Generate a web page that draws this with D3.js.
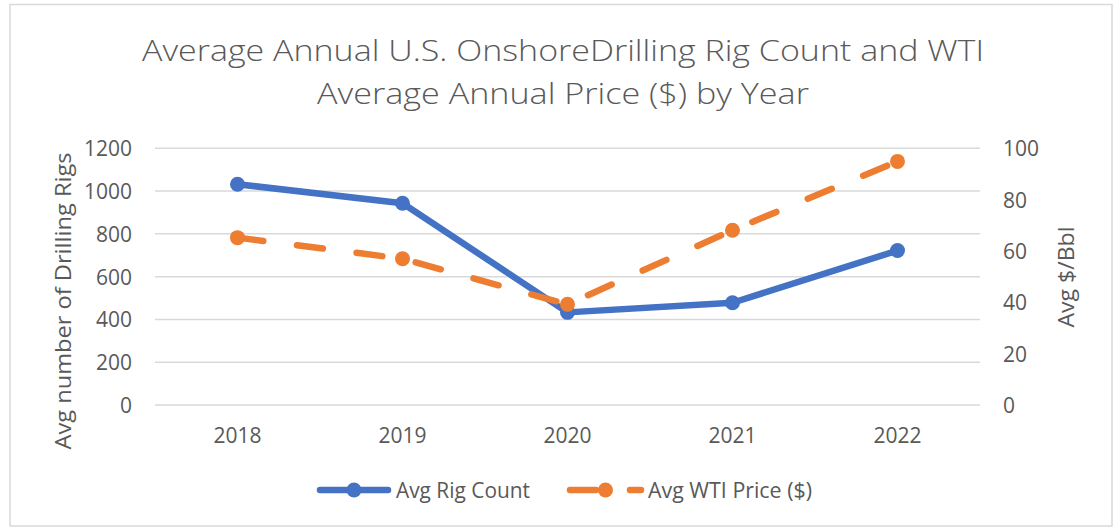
<!DOCTYPE html>
<html>
<head>
<meta charset="utf-8">
<script src="https://cdn.jsdelivr.net/npm/d3@7/dist/d3.min.js"></script>
<style>
    body { margin: 0; background: #fff; }
    svg text { font-family: "Open Sans", "Noto Sans", sans-serif; fill: #595959; }
</style>
</head>
<body>
<div id="chart"></div>
<script>
var years = ["2018", "2019", "2020", "2021", "2022"];
var rigCount = [1032, 943, 433, 478, 722];
var wtiPrice = [65.2, 57.0, 39.2, 68.1, 94.9];
var leftTicks = [0, 200, 400, 600, 800, 1000, 1200];
var rightTicks = [0, 20, 40, 60, 80, 100];
var titleLines = ["Average Annual U.S. OnshoreDrilling Rig Count and WTI", "Average Annual Price ($) by Year"];
var seriesNames = ["Avg Rig Count", "Avg WTI Price ($)"];

var width = 1115, height = 527;
var blue = "#4472C4", orange = "#ED7D31", grid = "#d9d9d9";

var svg = d3.select("#chart").append("svg")
    .attr("width", width)
    .attr("height", height);

// chart border
svg.append("rect")
    .attr("x", 10)
    .attr("y", 4.5)
    .attr("width", 1102)
    .attr("height", 521.5)
    .attr("fill", "#fff")
    .attr("stroke", grid)
    .attr("stroke-width", 1.5);

// title
svg.selectAll("text.title")
    .data(titleLines)
    .enter().append("text")
    .attr("class", "title")
    .attr("x", 563)
    .attr("y", function (d, i) { return 61 + i * 43; })
    .attr("text-anchor", "middle")
    .attr("font-size", "30px")
    .attr("font-weight", 300)
    .attr("textLength", function (d, i) { return i === 0 ? 842 : 492; })
    .attr("lengthAdjust", "spacingAndGlyphs")
    .text(function (d) { return d; });

var x = d3.scaleBand().domain(years).range([155, 980]);
var yLeft = d3.scaleLinear().domain([0, 1200]).range([405, 148.3]);
var yRight = d3.scaleLinear().domain([0, 100]).range([405, 148.3]);

// gridlines
svg.append("g")
    .selectAll("line")
    .data(leftTicks)
    .enter().append("line")
    .attr("x1", 155)
    .attr("x2", 980)
    .attr("y1", function (d) { return yLeft(d); })
    .attr("y2", function (d) { return yLeft(d); })
    .attr("stroke", grid)
    .attr("stroke-width", 1.5);

// left axis
var leftAxis = svg.append("g")
    .attr("transform", "translate(132,0)")
    .call(d3.axisLeft(yLeft).tickValues(leftTicks).tickFormat(d3.format("d")).tickSize(0).tickPadding(0));
leftAxis.select(".domain").remove();
leftAxis.selectAll("text")
    .attr("font-size", "21px")
    .attr("dy", "0.36em")
    .style("font-family", null);

// right axis
var rightAxis = svg.append("g")
    .attr("transform", "translate(1003,0)")
    .call(d3.axisRight(yRight).tickValues(rightTicks).tickFormat(d3.format("d")).tickSize(0).tickPadding(0));
rightAxis.select(".domain").remove();
rightAxis.selectAll("text")
    .attr("font-size", "21px")
    .attr("dy", "0.36em")
    .style("font-family", null);

// bottom axis
var bottomAxis = svg.append("g")
    .attr("transform", "translate(0,428)")
    .call(d3.axisBottom(x).tickSize(0).tickPadding(0));
bottomAxis.select(".domain").remove();
bottomAxis.selectAll("text")
    .attr("font-size", "21px")
    .attr("dy", "0.72em")
    .style("font-family", null);
svg.selectAll(".tick text").attr("fill", "#595959");

// axis titles
svg.append("text")
    .attr("transform", "translate(71,301) rotate(-90)")
    .attr("text-anchor", "middle")
    .attr("font-size", "22px")
    .attr("textLength", 297)
    .attr("lengthAdjust", "spacingAndGlyphs")
    .text("Avg number of Drilling Rigs");

svg.append("text")
    .attr("transform", "translate(1074,277) rotate(-90)")
    .attr("text-anchor", "middle")
    .attr("font-size", "22px")
    .attr("textLength", 101)
    .attr("lengthAdjust", "spacingAndGlyphs")
    .text("Avg $/Bbl");

function cx(d, i) { return x(years[i]) + x.bandwidth() / 2; }

// rig count series
var rigLine = d3.line()
    .x(cx)
    .y(function (d) { return yLeft(d); });

svg.append("path")
    .datum(rigCount)
    .attr("d", rigLine)
    .attr("fill", "none")
    .attr("stroke", blue)
    .attr("stroke-width", 6.5)
    .attr("stroke-linejoin", "round")
    .attr("stroke-linecap", "round");

svg.append("g")
    .selectAll("circle")
    .data(rigCount)
    .enter().append("circle")
    .attr("cx", cx)
    .attr("cy", function (d) { return yLeft(d); })
    .attr("r", 7.5)
    .attr("fill", blue);

// wti price series
var wtiLine = d3.line()
    .x(cx)
    .y(function (d) { return yRight(d); });

svg.append("path")
    .datum(wtiPrice)
    .attr("d", wtiLine)
    .attr("fill", "none")
    .attr("stroke", orange)
    .attr("stroke-width", 6.5)
    .attr("stroke-dasharray", "26,34")
    .attr("stroke-linejoin", "round")
    .attr("stroke-linecap", "round");

svg.append("g")
    .selectAll("circle")
    .data(wtiPrice)
    .enter().append("circle")
    .attr("cx", cx)
    .attr("cy", function (d) { return yRight(d); })
    .attr("r", 7.5)
    .attr("fill", orange);

// legend
var legendY = 490;
var legend = [
    { name: seriesNames[0], color: blue, x1: 320, x2: 388, dash: null, tx: 396, tl: 134 },
    { name: seriesNames[1], color: orange, x1: 570, x2: 641, dash: "26,34", tx: 648, tl: 164 }
];

var lg = svg.append("g").selectAll("g")
    .data(legend)
    .enter().append("g");

lg.append("line")
    .attr("x1", function (d) { return d.x1; })
    .attr("x2", function (d) { return d.x2; })
    .attr("y1", legendY)
    .attr("y2", legendY)
    .attr("stroke", function (d) { return d.color; })
    .attr("stroke-width", 6.5)
    .attr("stroke-linecap", "round")
    .attr("stroke-dasharray", function (d) { return d.dash; });

lg.append("circle")
    .attr("cx", function (d) { return (d.x1 + d.x2) / 2; })
    .attr("cy", legendY)
    .attr("r", 7.5)
    .attr("fill", function (d) { return d.color; });

lg.append("text")
    .attr("x", function (d) { return d.tx; })
    .attr("y", legendY)
    .attr("dy", "0.36em")
    .attr("font-size", "21px")
    .attr("textLength", function (d) { return d.tl; })
    .attr("lengthAdjust", "spacingAndGlyphs")
    .text(function (d) { return d.name; });
</script>
</body>
</html>
